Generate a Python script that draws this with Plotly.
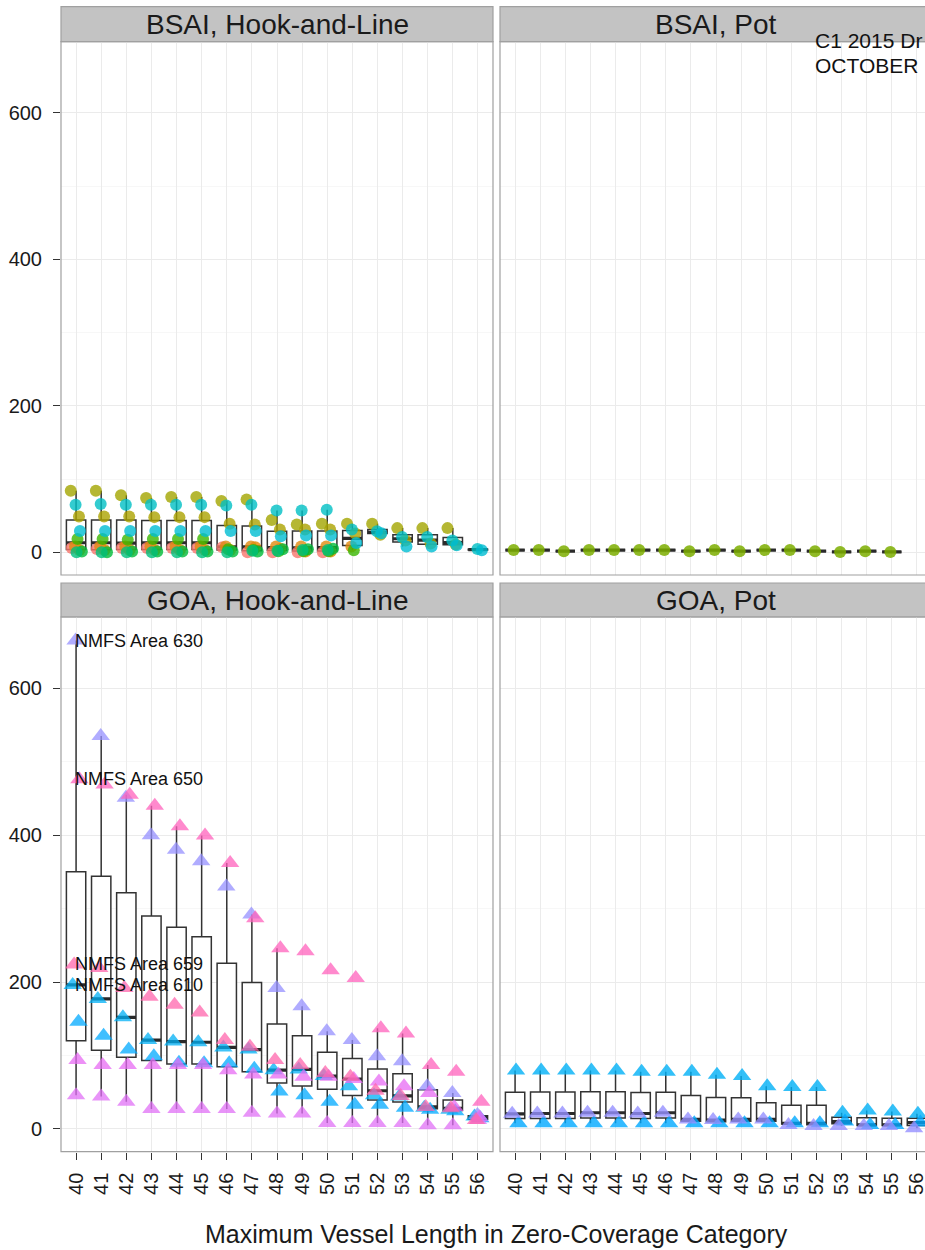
import numpy as np
import plotly.graph_objects as go

# ---------------- data ----------------
cats = [40, 41, 42, 43, 44, 45, 46, 47, 48, 49, 50, 51, 52, 53, 54, 55, 56]
tick_labels = [str(c) for c in cats]

# BSAI, Hook-and-Line (circles): one list per NMFS area, index = category 40..56
bsai_hl_509 = [6, 4.5, 6, 6, 6, 6, 7, 0, 0, 0, 0, None, None, None, None, None, None]
bsai_hl_512 = [3, 3, 3, 3, 3, 3, 3, 7, 5, 1, 1, None, None, None, None, None, None]
bsai_hl_513 = [8, 8, 8, 8, 8, 8, 8, 8, 8, 8, 8, 8, None, None, None, None, None]
bsai_hl_514 = [49, 49, 49, 48, 48, 48, 39, 38, 31, 31, 31, 25.5, 24, 16, 12, 10.5, None]
bsai_hl_516 = [84, 84, 78, 74, 75.5, 75.5, 70, 72, 44, 38, 39, 39, 39, 33, 33, 33, None]
bsai_hl_518 = [18, 18, 17, 18, 18, 18, 4, 3, 1.4, 1.4, 1.4, 2.7, None, None, None, None, None]
bsai_hl_519 = [1, 0, 1, 1, 1, 1, 1, 1, 4, 4, 5, None, None, None, None, None, None]
bsai_hl_521 = [0, 0, 0, 0, 0, 0, 0, 2, 2, 3, 3, None, None, None, None, None, None]
bsai_hl_523 = [65, 66, 65, 65, 65, 65, 64, 65, 57, 57, 58, 31, 28.6, 21, 21, 16, 4.5]
bsai_hl_524 = [29, 29, 29, 29, 29, 29, 29, 29, 22, 23, 23, 12.7, 26, 8, 8, 9.5, 2.7]

# BSAI, Pot
bsai_pot_517 = [3, 3, 1.5, 3, 3, 3, 3, 1.5, 3, 1.5, 3, 3, 1.5, 0.5, 1.5, 0.5, None]

# GOA, Hook-and-Line (triangles)
goa_hl_610 = [196, 177, 152, 121, 119, 118, 111, 108, 80, 81, 72, 58, 46, 44, 29, 26, 17]
goa_hl_620 = [146, 127, 108, 99, 90, 89.5, 89.5, 82, 51, 46, 37, 33, 33, 29, 26, 24, 14.5]
goa_hl_630 = [665, 535, 451, 400, 380, 364.5, 330, 292, 192, 167, 133, 121, 99, 92, 58, 49, 19]
goa_hl_640 = [94, 87, 87, 87, 87, 87, 80, 74, 74, 71, 71, 68, 64.5, 58, 49, 30, 16]
goa_hl_649 = [46, 44, 37, 27, 27, 27, 27, 22, 21, 21, 8, 8, 8, 8, 5, 5, 12]
goa_hl_650 = [476, 469, 455, 440, 412, 399.5, 362, 287, 246, 242, 216, 205.5, 137, 130, 87, 78, 37]
goa_hl_659 = [224, 219, 192, 180, 169, 158.6, 121, 112, 94, 87, 76, 71, 52, 45, 30, 28, 12]

# GOA, Pot
goa_pot_610 = [79.5, 79.5, 79.5, 79.5, 79.5, 78, 78, 78, 73.6, 72, 58, 57, 57, 22, 25, 23.6, 20.5]
goa_pot_620 = [7.7, 7.7, 7.7, 7.7, 7.7, 7.7, 7.7, 7.7, 7.7, 7.7, 7.7, 7.7, 7.7, 10, 5.5, 5.5, 8.6]
goa_pot_630 = [20.5, 21, 21, 22, 22, 21, 22, 13, 12, 13, 13, 5.5, 4, 4, 4, 4, 1]

labelled_goa = {"NMFS Area 630": goa_hl_630, "NMFS Area 650": goa_hl_650,
                "NMFS Area 659": goa_hl_659, "NMFS Area 610": goa_hl_610}

panel_titles = ["BSAI, Hook-and-Line", "BSAI, Pot", "GOA, Hook-and-Line", "GOA, Pot"]
x_title = "Maximum Vessel Length in Zero-Coverage Category"
corner_notes = ["C1 2015 Dr", "OCTOBER"]

# ---------------- styling ----------------
FONT = "Liberation Sans, Arial, Helvetica, sans-serif"
BOXW = 0.77
PX = 925.0
PY = 1250.0

def fx(px):
    return px / PX

def fy(py):
    return 1 - py / PY

LEFT = (61, 493)
RIGHT = (500, 932)
TOP = (41.7, 575)
BOT = (617, 1151.7)
STRIP_TOP = (6.7, 41.7)
STRIP_BOT = (583, 617)
units_per_px = 17.2 / (LEFT[1] - LEFT[0])
XR_LEFT = [39.4, 56.6]
XR_RIGHT = [39.4, 39.4 + (925 - RIGHT[0]) * units_per_px]
YR = [-31, 697]

fig = go.Figure()


def box_stats(series_list):
    xs, q1s, meds, q3s, los, his = [], [], [], [], [], []
    for i, c in enumerate(cats):
        vals = np.array([s[i] for s in series_list if s[i] is not None], dtype=float)
        if vals.size == 0:
            continue
        q1, med, q3 = np.percentile(vals, [25, 50, 75])
        iqr = q3 - q1
        lo = vals[vals >= q1 - 1.5 * iqr].min()
        hi = vals[vals <= q3 + 1.5 * iqr].max()
        xs.append(c); q1s.append(q1); meds.append(med); q3s.append(q3)
        los.append(lo); his.append(hi)
    return xs, q1s, meds, q3s, los, his


def add_panel(series, colors, pointpos, symbol, size, opacity, xa, ya):
    xs, q1s, meds, q3s, los, his = box_stats([s for s in series.values()])
    fig.add_trace(go.Box(x=xs, q1=q1s, median=meds, q3=q3s, lowerfence=los, upperfence=his,
                         width=BOXW, fillcolor="white", whiskerwidth=0,
                         line=dict(color="#333333", width=1.5), boxpoints=False,
                         hoverinfo="skip", showlegend=False, xaxis=xa, yaxis=ya))
    fig.add_trace(go.Box(x=xs, q1=meds, median=meds, q3=meds, lowerfence=meds, upperfence=meds,
                         width=BOXW, fillcolor="rgba(0,0,0,0)", whiskerwidth=0,
                         line=dict(color="#2a2a2a", width=3.2), boxpoints=False,
                         hoverinfo="skip", showlegend=False, xaxis=xa, yaxis=ya))
    for name, vals in series.items():
        xx = [c for c, v in zip(cats, vals) if v is not None]
        yy = [v for v in vals if v is not None]
        fig.add_trace(go.Box(x=xx, y=yy, name=name, boxpoints="all", jitter=0,
                             pointpos=pointpos[name], width=BOXW,
                             fillcolor="rgba(0,0,0,0)", whiskerwidth=0,
                             line=dict(color="rgba(0,0,0,0)", width=0),
                             marker=dict(symbol=symbol, size=size, color=colors[name],
                                         opacity=opacity, line=dict(width=0)),
                             hoverinfo="skip", showlegend=False, xaxis=xa, yaxis=ya))


# BSAI H&L
bsai_hl = {"509": bsai_hl_509, "512": bsai_hl_512, "513": bsai_hl_513, "514": bsai_hl_514,
           "516": bsai_hl_516, "518": bsai_hl_518, "519": bsai_hl_519, "521": bsai_hl_521,
           "523": bsai_hl_523, "524": bsai_hl_524}
bsai_colors = {"509": "#F8766D", "512": "#E58700", "513": "#E08B10", "514": "#ABA300",
               "516": "#A3A500", "518": "#39B600", "519": "#00BA38", "521": "#00BF7D",
               "523": "#00BFC4", "524": "#00BDD2", "517": "#7CAE00"}
bsai_pos = {"509": -0.45, "512": 0.35, "513": -0.1, "514": 0.3, "516": -0.55,
            "518": 0.15, "519": 0.6, "521": 0.05, "523": -0.05, "524": 0.4}
add_panel(bsai_hl, bsai_colors, bsai_pos, "circle", 12, 0.8, "x", "y")

# BSAI Pot
add_panel({"517": bsai_pot_517}, bsai_colors, {"517": -0.15}, "circle", 12, 0.85, "x2", "y2")

# GOA H&L
goa_hl = {"610": goa_hl_610, "620": goa_hl_620, "630": goa_hl_630, "640": goa_hl_640,
          "649": goa_hl_649, "650": goa_hl_650, "659": goa_hl_659}
goa_colors = {"610": "#00B0F6", "620": "#00A9FF", "630": "#9590FF", "640": "#E76BF3",
              "649": "#E070F5", "650": "#FF62BC", "659": "#FF65AC"}
goa_pos = {"610": -0.35, "620": 0.25, "630": -0.05, "640": 0.15, "649": 0.0,
           "650": 0.35, "659": -0.2}
add_panel(goa_hl, goa_colors, goa_pos, "triangle-up", 16, 0.75, "x3", "y3")

# GOA Pot
goa_pot = {"610": goa_pot_610, "620": goa_pot_620, "630": goa_pot_630}
goa_pot_pos = {"610": 0.1, "620": 0.35, "630": -0.3}
add_panel(goa_pot, goa_colors, goa_pot_pos, "triangle-up", 16, 0.8, "x4", "y4")

# ---------------- axes ----------------
tickfont = dict(family=FONT, size=20, color="#1a1a1a")


def xaxis(dom, rng, anchor, show):
    return dict(domain=dom, range=rng, anchor=anchor, tickvals=cats, ticktext=tick_labels,
                showgrid=True, gridcolor="#EBEBEB", gridwidth=1, zeroline=False,
                showline=False, showticklabels=show, ticks="outside" if show else "",
                ticklen=7, tickwidth=1.2, tickcolor="#333333", tickangle=-90,
                ticklabelstandoff=5, ticklabeloverflow="allow", tickfont=tickfont,
                automargin=False, fixedrange=True)


def yaxis(dom, anchor, show):
    return dict(domain=dom, range=YR, anchor=anchor, tickvals=[0, 200, 400, 600],
                showgrid=True, gridcolor="#EBEBEB", gridwidth=1, zeroline=False,
                minor=dict(tickvals=[100, 300, 500], showgrid=True, gridcolor="#F7F7F7",
                           gridwidth=1, ticks=""),
                showline=False, showticklabels=show, ticks="outside" if show else "",
                ticklen=7, tickwidth=1.2, tickcolor="#333333", ticklabelstandoff=7,
                tickfont=tickfont, automargin=False, fixedrange=True)


xl = [fx(LEFT[0]), fx(LEFT[1])]
xr = [fx(RIGHT[0]), 1.0]
yt = [fy(TOP[1]), fy(TOP[0])]
yb = [fy(BOT[1]), fy(BOT[0])]

fig.update_layout(
    width=925, height=1250, margin=dict(l=0, r=0, t=0, b=0),
    paper_bgcolor="white", plot_bgcolor="white", boxmode="overlay", showlegend=False,
    font=dict(family=FONT, color="#1a1a1a"),
    xaxis=xaxis(xl, XR_LEFT, "y", False),
    yaxis=yaxis(yt, "x", True),
    xaxis2=xaxis(xr, XR_RIGHT, "y2", False),
    yaxis2=yaxis(yt, "x2", False),
    xaxis3=xaxis(xl, XR_LEFT, "y3", True),
    yaxis3=yaxis(yb, "x3", True),
    xaxis4=xaxis(xr, XR_RIGHT, "y4", True),
    yaxis4=yaxis(yb, "x4", False),
)

# ---------------- panel borders and strips ----------------
shapes = []
panels = [(LEFT, TOP, STRIP_TOP), (RIGHT, TOP, STRIP_TOP), (LEFT, BOT, STRIP_BOT), (RIGHT, BOT, STRIP_BOT)]
annotations = []
for (xp, yp, sp), title in zip(panels, panel_titles):
    shapes.append(dict(type="rect", xref="paper", yref="paper", x0=fx(xp[0]), x1=fx(xp[1]),
                       y0=fy(yp[1]), y1=fy(yp[0]), line=dict(color="#A0A0A0", width=1.2),
                       fillcolor="rgba(0,0,0,0)", layer="above"))
    shapes.append(dict(type="rect", xref="paper", yref="paper", x0=fx(xp[0]), x1=fx(xp[1]),
                       y0=fy(sp[1]), y1=fy(sp[0]), line=dict(color="#A0A0A0", width=1.2),
                       fillcolor="#C3C3C3", layer="below"))
    annotations.append(dict(xref="paper", yref="paper", x=fx((xp[0] + xp[1]) / 2),
                            y=fy((sp[0] + sp[1]) / 2), text=title, showarrow=False,
                            xanchor="center", yanchor="middle",
                            font=dict(family=FONT, size=28, color="#1a1a1a")))

# area labels (placed at each labelled area's value in the first category)
for label, vals in labelled_goa.items():
    annotations.append(dict(xref="x3", yref="y3", x=cats[0], y=vals[0], text=label,
                            showarrow=False, xanchor="left", yanchor="middle",
                            xshift=-3, font=dict(family=FONT, size=18, color="#111111")))

annotations.append(dict(xref="paper", yref="paper", x=fx(497), y=fy(1234), text=x_title,
                        showarrow=False, xanchor="center", yanchor="middle",
                        font=dict(family=FONT, size=25, color="#1a1a1a")))
annotations.append(dict(xref="paper", yref="paper", x=fx(813), y=fy(40), text=corner_notes[0],
                        showarrow=False, xanchor="left", yanchor="middle",
                        font=dict(family=FONT, size=21, color="#111111")))
annotations.append(dict(xref="paper", yref="paper", x=fx(813), y=fy(66), text=corner_notes[1],
                        showarrow=False, xanchor="left", yanchor="middle",
                        font=dict(family=FONT, size=21, color="#111111")))

fig.update_layout(shapes=shapes, annotations=annotations)

fig.write_html("out.html", config={"displayModeBar": False},
               post_script="document.body.style.margin='0px';document.body.style.overflow='hidden';")
